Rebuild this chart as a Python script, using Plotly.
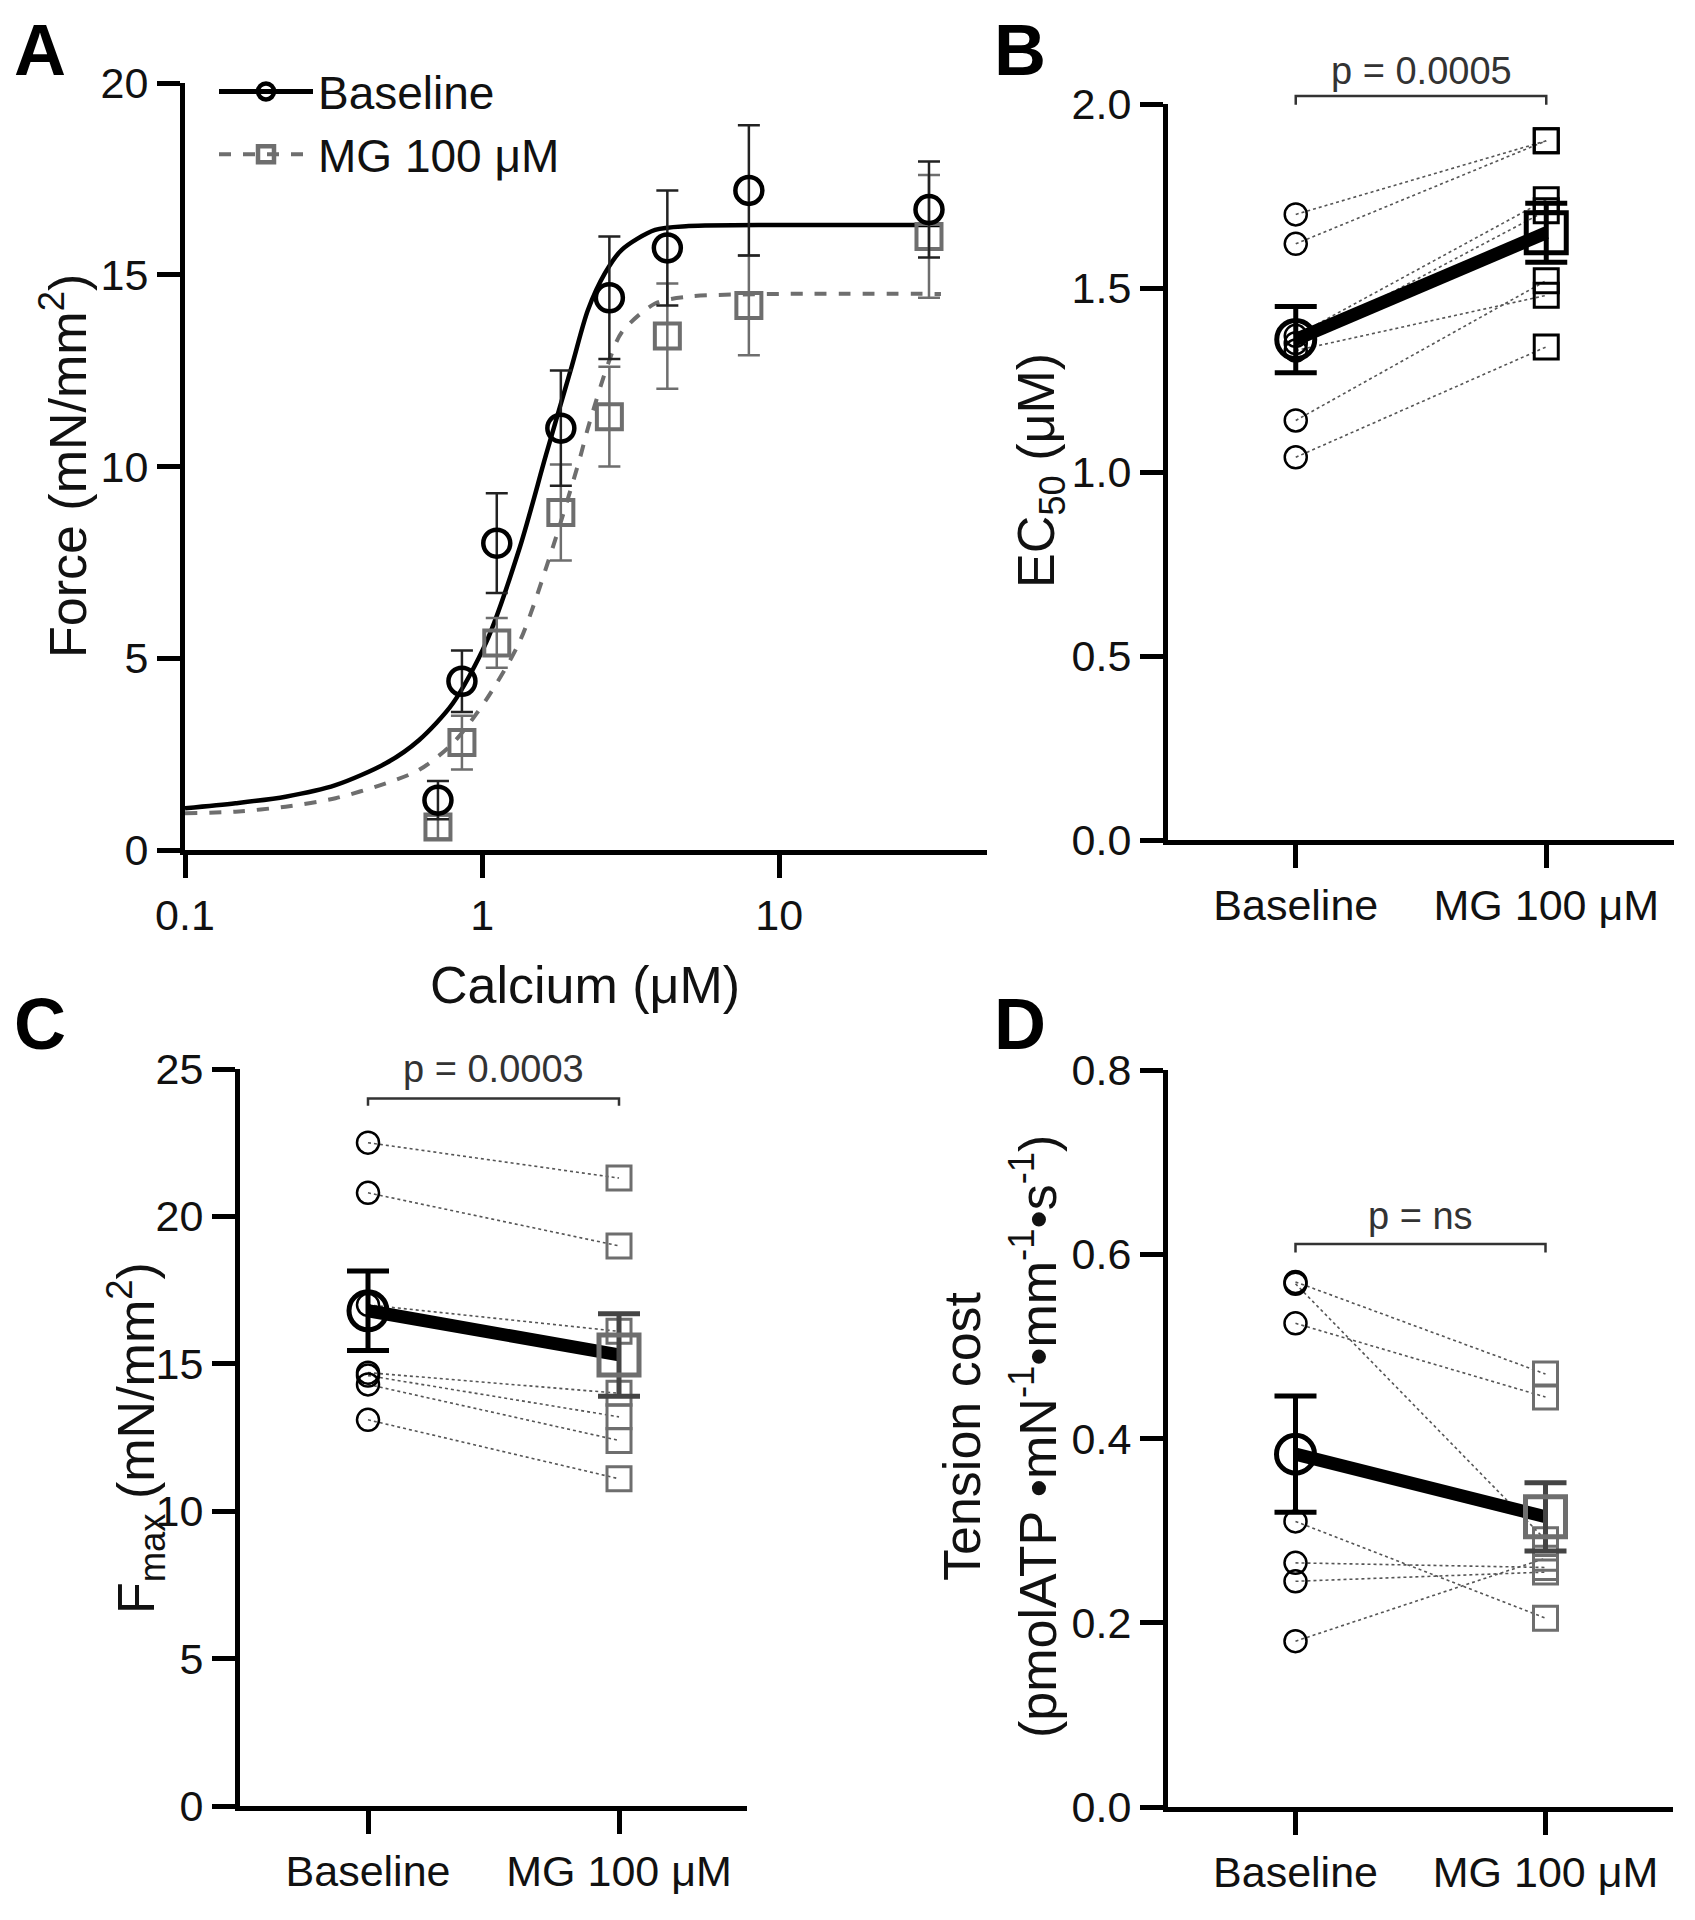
import plotly.graph_objects as go

W, H = 1695, 1920
OFF = 8  # page body margin compensation
FONT = "Liberation Sans, Arial, sans-serif"

# ---------------- Panel A data ----------------
calcium = [0.71, 0.855, 1.12, 1.84, 2.68, 4.2, 7.9, 31.9]
force_base = [1.3, 4.4, 8.0, 11.0, 14.4, 15.7, 17.2, 16.7]
force_base_err = [0.5, 0.8, 1.3, 1.5, 1.6, 1.5, 1.7, 1.25]
force_mg = [0.6, 2.8, 5.4, 8.8, 11.3, 13.4, 14.2, 16.0]
force_mg_err = [0.3, 0.7, 0.65, 1.25, 1.3, 1.37, 1.3, 1.6]

fit_x_base = [0.1, 0.148, 0.218, 0.321, 0.474, 0.614, 0.796, 1.03, 1.34, 1.64, 2.0, 2.27, 2.59, 2.95, 3.82, 4.95, 10, 35]
fit_y_base = [1.09, 1.22, 1.39, 1.69, 2.26, 2.87, 3.82, 5.4, 7.9, 10.3, 12.6, 14.08, 15.04, 15.65, 16.17, 16.27, 16.3, 16.3]
fit_x_mg = [0.1, 0.148, 0.218, 0.321, 0.474, 0.614, 0.796, 1.03, 1.34, 1.73, 2.13, 2.27, 2.66, 2.95, 3.82, 4.95, 10, 35]
fit_y_mg = [0.96, 1.0, 1.13, 1.35, 1.74, 2.09, 2.78, 3.91, 5.45, 7.9, 10.2, 11.0, 12.7, 13.5, 14.25, 14.43, 14.5, 14.5]

# ---------------- Panels B-D data ----------------
groups = ["Baseline", "MG 100 μM"]
group_pos = [0, 1]

ec50_base = [1.70, 1.62, 1.37, 1.35, 1.33, 1.14, 1.04]
ec50_mg = [1.90, 1.90, 1.74, 1.71, 1.48, 1.52, 1.34]
ec50_mean = [1.36, 1.65]
ec50_sem = [0.09, 0.08]

fmax_base = [22.5, 20.8, 17.0, 14.7, 14.6, 14.3, 13.1]
fmax_mg = [21.3, 19.0, 16.1, 14.0, 13.2, 12.4, 11.1]
fmax_mean = [16.8, 15.3]
fmax_sem = [1.35, 1.4]

tc_base = [0.57, 0.568, 0.525, 0.31, 0.265, 0.245, 0.18]
tc_mg = [0.47, 0.29, 0.445, 0.205, 0.26, 0.255, 0.27]
tc_mean = [0.383, 0.315]
tc_sem = [0.063, 0.037]

p_labels = ["p = 0.0005", "p = 0.0003", "p = ns"]

GRAY = "#6e6e6e"

def px_x(p):
    return (p - OFF) / W

def px_y(p):
    return 1 - (p - OFF) / H

fig = go.Figure()

# ---------- Panel A ----------
fig.add_trace(go.Scatter(x=fit_x_base, y=fit_y_base, mode="lines", line=dict(color="black", width=4.5, shape="spline", smoothing=0.8),
                         xaxis="x", yaxis="y", showlegend=False, hoverinfo="skip"))
fig.add_trace(go.Scatter(x=fit_x_mg, y=fit_y_mg, mode="lines", line=dict(color=GRAY, width=4, dash="dash", shape="spline", smoothing=0.8),
                         xaxis="x", yaxis="y", showlegend=False, hoverinfo="skip"))
fig.add_trace(go.Scatter(x=calcium, y=force_mg, mode="markers",
                         marker=dict(symbol="square-open", size=25, color=GRAY, line=dict(width=4, color=GRAY)),
                         error_y=dict(type="data", array=force_mg_err, color=GRAY, thickness=2.5, width=11),
                         xaxis="x", yaxis="y", showlegend=False, cliponaxis=False))
fig.add_trace(go.Scatter(x=calcium, y=force_base, mode="markers",
                         marker=dict(symbol="circle-open", size=27, color="black", line=dict(width=4.5, color="black")),
                         error_y=dict(type="data", array=force_base_err, color="#222", thickness=2.5, width=11),
                         xaxis="x", yaxis="y", showlegend=False, cliponaxis=False))
# legend entries
fig.add_trace(go.Scatter(x=[None], y=[None], mode="lines+markers", name="Baseline",
                         line=dict(color="black", width=5),
                         marker=dict(symbol="circle-open", size=24, color="black", line=dict(width=4.5, color="black")),
                         xaxis="x", yaxis="y"))
fig.add_trace(go.Scatter(x=[None], y=[None], mode="lines+markers", name="MG 100 μM",
                         line=dict(color=GRAY, width=4, dash="dash"),
                         marker=dict(symbol="square-open", size=24, color=GRAY, line=dict(width=4.5, color=GRAY)),
                         xaxis="x", yaxis="y"))

# ---------- Panels B, C, D ----------
panels = [
    ("x2", "y2", ec50_base, ec50_mg, ec50_mean, ec50_sem, "black"),
    ("x3", "y3", fmax_base, fmax_mg, fmax_mean, fmax_sem, GRAY),
    ("x4", "y4", tc_base, tc_mg, tc_mean, tc_sem, GRAY),
]
for xa, ya, base, mg, mean, sem, sqcol in panels:
    for b, m in zip(base, mg):
        fig.add_trace(go.Scatter(x=group_pos, y=[b, m], mode="lines",
                                 line=dict(color="#555", width=1.6, dash="dot"),
                                 xaxis=xa, yaxis=ya, showlegend=False, hoverinfo="skip"))
    fig.add_trace(go.Scatter(x=[group_pos[0]] * len(base), y=base, mode="markers",
                             marker=dict(symbol="circle-open", size=22, color="black", line=dict(width=2.5, color="black")),
                             xaxis=xa, yaxis=ya, showlegend=False, cliponaxis=False))
    fig.add_trace(go.Scatter(x=[group_pos[1]] * len(mg), y=mg, mode="markers",
                             marker=dict(symbol="square-open", size=24, color=sqcol, line=dict(width=3, color=sqcol)),
                             xaxis=xa, yaxis=ya, showlegend=False, cliponaxis=False))
    fig.add_trace(go.Scatter(x=group_pos, y=mean, mode="lines", line=dict(color="black", width=13),
                             xaxis=xa, yaxis=ya, showlegend=False, hoverinfo="skip"))
    fig.add_trace(go.Scatter(x=[group_pos[0]], y=[mean[0]], mode="markers",
                             marker=dict(symbol="circle-open", size=38, color="black", line=dict(width=5, color="black")),
                             error_y=dict(type="data", array=[sem[0]], color="black", thickness=5, width=21),
                             xaxis=xa, yaxis=ya, showlegend=False, cliponaxis=False))
    fig.add_trace(go.Scatter(x=[group_pos[1]], y=[mean[1]], mode="markers",
                             marker=dict(symbol="square-open", size=40, color=sqcol, line=dict(width=5, color=sqcol)),
                             error_y=dict(type="data", array=[sem[1]], color=sqcol if sqcol != GRAY else "#444", thickness=5, width=21),
                             xaxis=xa, yaxis=ya, showlegend=False, cliponaxis=False))

# ---------- Axes ----------
axis_common = dict(showline=True, linewidth=5, linecolor="black", ticks="outside", ticklen=23, tickwidth=5,
                   tickcolor="black", showgrid=False, zeroline=False, automargin=False,
                   tickfont=dict(family=FONT, size=43, color="#111"))

dom = {
    "A": ([185, 987], [83, 850]),
    "B": ([1168, 1674], [104, 840]),
    "C": ([240, 747], [1069, 1806]),
    "D": ([1168, 1673], [1070, 1807]),
}

def xd(k):
    return [px_x(dom[k][0][0]), px_x(dom[k][0][1])]

def yd(k):
    return [px_y(dom[k][1][1]), px_y(dom[k][1][0])]

cat_x = dict(range=[-0.51, 1.51], tickvals=group_pos, ticktext=groups)

fig.update_layout(
    xaxis=dict(domain=xd("A"), anchor="y", type="log", range=[-1, 1.699], tickvals=[0.1, 1, 10], ticktext=["0.1", "1", "10"], **axis_common),
    yaxis=dict(domain=yd("A"), anchor="x", range=[0, 20], tickvals=[0, 5, 10, 15, 20], **axis_common),
    xaxis2=dict(domain=xd("B"), anchor="y2", **cat_x, **axis_common),
    yaxis2=dict(domain=yd("B"), anchor="x2", range=[0, 2], tickvals=[0, 0.5, 1.0, 1.5, 2.0], tickformat=".1f", **axis_common),
    xaxis3=dict(domain=xd("C"), anchor="y3", **cat_x, **axis_common),
    yaxis3=dict(domain=yd("C"), anchor="x3", range=[0, 25], tickvals=[0, 5, 10, 15, 20, 25], **axis_common),
    xaxis4=dict(domain=xd("D"), anchor="y4", **cat_x, **axis_common),
    yaxis4=dict(domain=yd("D"), anchor="x4", range=[0, 0.8], tickvals=[0, 0.2, 0.4, 0.6, 0.8], tickformat=".1f", **axis_common),
)

# ---------- Brackets and p-values ----------
def val_to_paper(v, k, lo, hi):
    top, bot = dom[k][1]
    pix = bot - (v - lo) / (hi - lo) * (bot - top)
    return px_y(pix)

shapes = []
annotations = []
bracket_specs = [
    ("x2", "B", 0, 2, 2.022, 1.998, 2.09, p_labels[0]),
    ("x3", "C", 0, 25, 24.0, 23.75, 25.0, p_labels[1]),
    ("x4", "D", 0, 0.8, 0.611, 0.602, 0.641, p_labels[2]),
]
for xa, k, lo, hi, yh, yl, yt, txt in bracket_specs:
    ph = val_to_paper(yh, k, lo, hi)
    pl = val_to_paper(yl, k, lo, hi)
    shapes.append(dict(type="path", xref=xa, yref="paper",
                       path=f"M 0,{pl} L 0,{ph} L 1,{ph} L 1,{pl}",
                       line=dict(color="#333", width=2.5)))
    annotations.append(dict(xref=xa, yref="paper", x=0.5, y=val_to_paper(yt, k, lo, hi), text=txt, showarrow=False,
                            xanchor="center", yanchor="middle", font=dict(family=FONT, size=38, color="#333")))

# ---------- Titles ----------
TF = dict(family=FONT, size=52, color="#111")
def ann(x, y, text, angle=0, font=TF, xanchor="center", yanchor="middle", pad=1):
    annotations.append(dict(xref="paper", yref="paper", x=px_x(x), y=px_y(y), text=text, textangle=angle,
                            showarrow=False, xanchor=xanchor, yanchor=yanchor, font=font, borderpad=pad))

ann(585, 985, "Calcium (μM)")
ann(64, 466, "Force (mN/mm<sup>2</sup>)", -90)
ann(1040, 471, "EC<sub>50</sub> (μM)", -90)
ann(136, 1438, "F<sub>max</sub> (mN/mm<sup>2</sup>)", -90)
ann(962, 1436, "Tension cost", -90)
ann(1034, 1437, "(pmolATP •mN<sup>-1</sup>•mm<sup>-1</sup>•s<sup>-1</sup>)", -90)

LF = dict(family=FONT, size=72, color="black")
ann(40, 50, "<b>A</b>", font=LF, pad=0)
ann(1020, 50, "<b>B</b>", font=LF, pad=0)
ann(40, 1024, "<b>C</b>", font=LF, pad=0)
ann(1020, 1024, "<b>D</b>", font=LF, pad=0)

fig.update_layout(
    width=W, height=H, margin=dict(l=0, r=0, t=0, b=0, pad=0),
    paper_bgcolor="white", plot_bgcolor="white",
    shapes=shapes, annotations=annotations,
    showlegend=True,
    legend=dict(x=px_x(214), y=px_y(55), xanchor="left", yanchor="top", bgcolor="rgba(0,0,0,0)",
                font=dict(family=FONT, size=46, color="#111"), itemwidth=94, tracegroupgap=0),
    font=dict(family=FONT),
)

fig.write_html("out.html")
